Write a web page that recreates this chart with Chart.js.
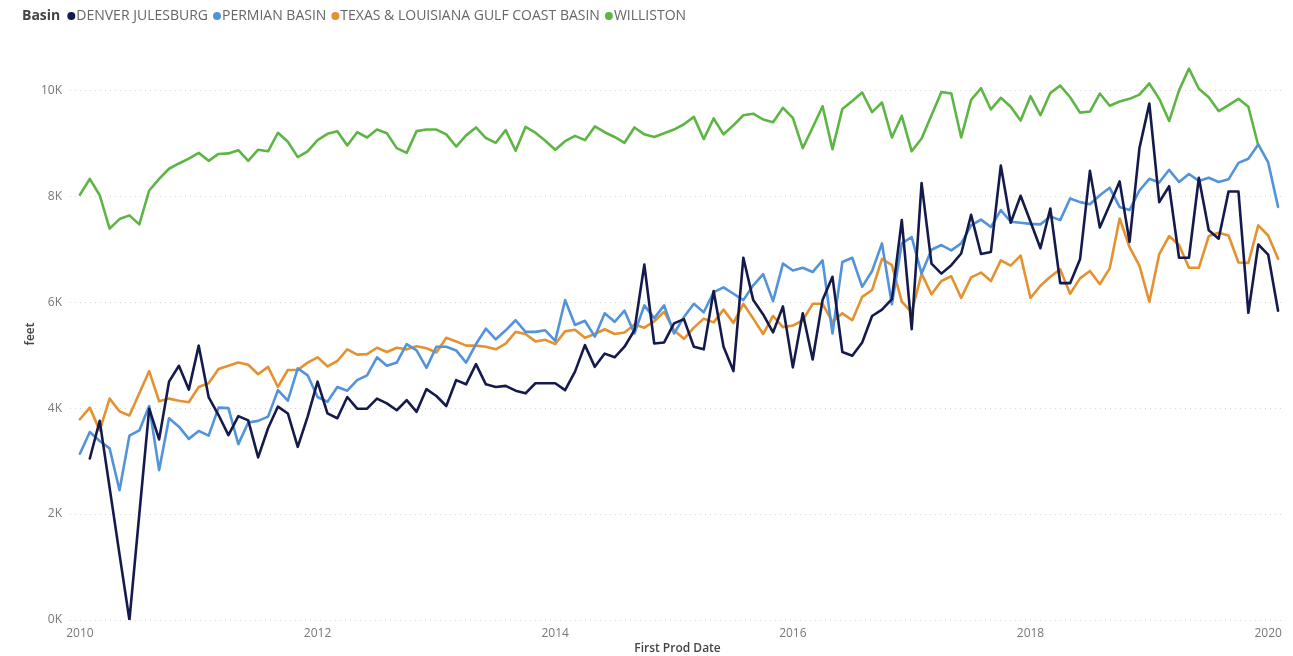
<!DOCTYPE html>
<html><head><meta charset="utf-8">
<script src="https://cdn.jsdelivr.net/npm/chart.js@4/dist/chart.umd.min.js"></script>
<style>html,body{margin:0;padding:0;background:#fff;}canvas{display:block;}</style>
</head><body>
<canvas id="c" width="1293" height="656"></canvas>
<script>
// Monthly series, Jan 2010 (index 0) .. Feb 2020 (index 121), values in thousands of feet
const legendTitle = 'Basin';
const seriesNames = ['DENVER JULESBURG', 'PERMIAN BASIN', 'TEXAS & LOUISIANA GULF COAST BASIN', 'WILLISTON'];
const seriesColors = ['#141A4B', '#5393DA', '#E4922F', '#5DB544'];
const xTickYears = [2010, 2012, 2014, 2016, 2018, 2020];
const yTickValues = [0, 2, 4, 6, 8, 10];

const denver = [null,3.05,3.76,2.50,1.24,0.0,2.0,3.99,3.41,4.50,4.80,4.35,5.18,4.21,3.87,3.49,3.85,3.77,3.07,3.62,4.03,3.90,3.27,3.84,
4.50,3.90,3.81,4.21,3.99,3.99,4.18,4.09,3.96,4.15,3.93,4.36,4.23,4.04,4.53,4.45,4.83,4.45,4.40,4.42,4.33,4.28,4.47,4.47,
4.47,4.34,4.69,5.19,4.78,5.03,4.96,5.16,5.47,6.71,5.22,5.24,5.60,5.68,5.16,5.11,6.21,5.16,4.70,6.84,6.04,5.77,5.43,5.92,
4.77,5.79,4.92,6.04,6.48,5.06,4.99,5.24,5.74,5.86,6.06,7.55,5.49,8.25,6.73,6.54,6.70,6.92,7.65,6.91,6.95,8.58,7.50,8.01,
7.52,7.02,7.77,6.36,6.36,6.81,8.48,7.41,7.84,8.28,7.14,8.91,9.75,7.89,8.19,6.84,6.84,8.35,7.36,7.20,8.09,8.09,5.80,7.09,
6.90,5.84];
const permian = [3.14,3.55,3.38,3.24,2.45,3.48,3.58,4.04,2.83,3.81,3.65,3.42,3.57,3.48,4.01,4.00,3.32,3.73,3.76,3.84,4.34,4.14,4.75,4.62,
4.21,4.12,4.40,4.33,4.53,4.62,4.96,4.80,4.86,5.21,5.09,4.76,5.16,5.16,5.09,4.86,5.21,5.50,5.30,5.47,5.66,5.44,5.44,5.47,
5.27,6.04,5.57,5.65,5.35,5.79,5.63,5.84,5.41,5.94,5.70,5.94,5.41,5.72,5.97,5.81,6.19,6.28,6.16,6.04,6.32,6.53,6.02,6.73,
6.60,6.65,6.57,6.79,5.41,6.76,6.84,6.29,6.59,7.11,5.96,7.11,7.23,6.54,6.99,7.08,6.98,7.11,7.45,7.56,7.42,7.74,7.52,7.50,
7.48,7.47,7.62,7.55,7.96,7.89,7.85,8.02,8.16,7.80,7.74,8.11,8.33,8.26,8.50,8.27,8.42,8.29,8.35,8.27,8.32,8.63,8.71,8.98,
8.64,7.80];
const texas = [3.79,4.01,3.58,4.18,3.94,3.86,4.28,4.70,4.13,4.18,4.14,4.11,4.40,4.47,4.74,4.80,4.86,4.82,4.64,4.78,4.40,4.72,4.72,4.86,
4.96,4.79,4.89,5.11,5.01,5.02,5.14,5.06,5.14,5.11,5.17,5.13,5.05,5.33,5.26,5.18,5.18,5.16,5.11,5.22,5.44,5.40,5.26,5.29,
5.21,5.45,5.48,5.33,5.40,5.49,5.40,5.43,5.58,5.52,5.64,5.82,5.47,5.31,5.52,5.69,5.62,5.86,5.61,5.97,5.69,5.40,5.74,5.53,
5.56,5.66,5.97,5.97,5.63,5.79,5.66,6.10,6.23,6.82,6.70,6.01,5.81,6.54,6.15,6.40,6.49,6.08,6.47,6.56,6.40,6.79,6.69,6.88,
6.08,6.31,6.48,6.62,6.16,6.45,6.59,6.34,6.64,7.58,7.04,6.69,6.01,6.91,7.25,7.08,6.65,6.65,7.25,7.31,7.26,6.75,6.74,7.45,
7.26,6.82];
const williston = [8.03,8.33,8.02,7.39,7.57,7.64,7.47,8.11,8.33,8.52,8.62,8.71,8.82,8.67,8.80,8.81,8.87,8.67,8.88,8.85,9.20,9.03,8.74,8.85,
9.06,9.18,9.23,8.96,9.21,9.11,9.26,9.19,8.91,8.82,9.23,9.26,9.26,9.17,8.94,9.15,9.30,9.10,9.01,9.25,8.86,9.31,9.20,9.05,
8.88,9.04,9.14,9.06,9.32,9.21,9.12,9.01,9.30,9.17,9.12,9.19,9.26,9.36,9.50,9.08,9.47,9.17,9.34,9.53,9.56,9.45,9.40,9.67,
9.48,8.91,9.30,9.70,8.89,9.65,9.80,9.96,9.59,9.77,9.11,9.52,8.85,9.09,9.53,9.97,9.94,9.11,9.82,10.04,9.64,9.86,9.69,9.43,
9.89,9.53,9.95,10.09,9.87,9.58,9.60,9.94,9.71,9.79,9.84,9.92,10.13,9.84,9.42,10.00,10.41,10.03,9.87,9.61,9.72,9.84,9.69,8.96,
null,null];

const seriesValues = [denver, permian, texas, williston];
const toPoints = arr => arr.map((v, i) => ({x: i, y: v}));

const legendPlugin = {
  id: 'basinLegend',
  afterDraw(chart) {
    const ctx = chart.ctx;
    ctx.save();
    ctx.textBaseline = 'middle';
    const y = 16;
    ctx.font = 'bold 14px "Open Sans"';
    ctx.fillStyle = '#444';
    ctx.fillText(legendTitle, 22, y);
    let cx = 22 + ctx.measureText(legendTitle).width + 11;
    ctx.font = '14px "Open Sans"';
    chart.data.datasets.forEach(ds => {
      ctx.beginPath();
      ctx.arc(cx, y, 4, 0, Math.PI * 2);
      ctx.fillStyle = ds.borderColor;
      ctx.fill();
      ctx.fillStyle = '#666';
      const tx = cx + 5;
      ctx.fillText(ds.label, tx, y);
      cx = tx + ctx.measureText(ds.label).width + 9;
    });
    ctx.restore();
  }
};

new Chart(document.getElementById('c'), {
  type: 'line',
  data: {
    datasets: seriesNames.map((name, k) => ({
      label: name,
      data: toPoints(seriesValues[k]),
      borderColor: seriesColors[k],
      backgroundColor: seriesColors[k],
      borderWidth: 2.6,
      pointRadius: 0,
      tension: 0,
      borderJoinStyle: 'round',
      borderCapStyle: 'round',
      spanGaps: false
    }))
  },
  options: {
    responsive: false,
    animation: false,
    layout: { padding: { top: 48, right: 8, left: 0, bottom: 0 } },
    plugins: { legend: { display: false }, tooltip: { enabled: false } },
    scales: {
      x: {
        type: 'linear',
        min: -1.0,
        max: 121.7,
        grid: { display: false, drawTicks: false },
        border: { display: false },
        afterBuildTicks: axis => { axis.ticks = xTickYears.map(yr => ({ value: (yr - 2010) * 12 })); },
        afterFit: axis => { axis.height = 36; },
        ticks: {
          autoSkip: false, maxRotation: 0, padding: 6,
          color: '#777', font: { family: '"Open Sans"', size: 12 },
          callback: v => String(2010 + Math.round(v / 12))
        },
        title: {
          display: true, text: 'First Prod Date', color: '#444',
          font: { family: '"Open Sans"', size: 12, weight: '600' },
          padding: { top: 0, bottom: 0 }
        }
      },
      y: {
        min: 0,
        max: 10.8,
        grid: { color: '#d6d6d6', lineWidth: 1, drawTicks: false },
        border: { display: false, dash: [1, 4] },
        afterBuildTicks: axis => { axis.ticks = yTickValues.map(v => ({ value: v })); },
        afterFit: axis => { axis.width = 70; },
        ticks: {
          padding: 8, color: '#777', font: { family: '"Open Sans"', size: 12 },
          callback: v => v + 'K'
        },
        title: {
          display: true, text: 'feet', color: '#444',
          font: { family: '"Open Sans"', size: 12, weight: '600' },
          padding: { top: 23, bottom: 0 }
        }
      }
    }
  },
  plugins: [legendPlugin]
});
</script>
</body></html>
